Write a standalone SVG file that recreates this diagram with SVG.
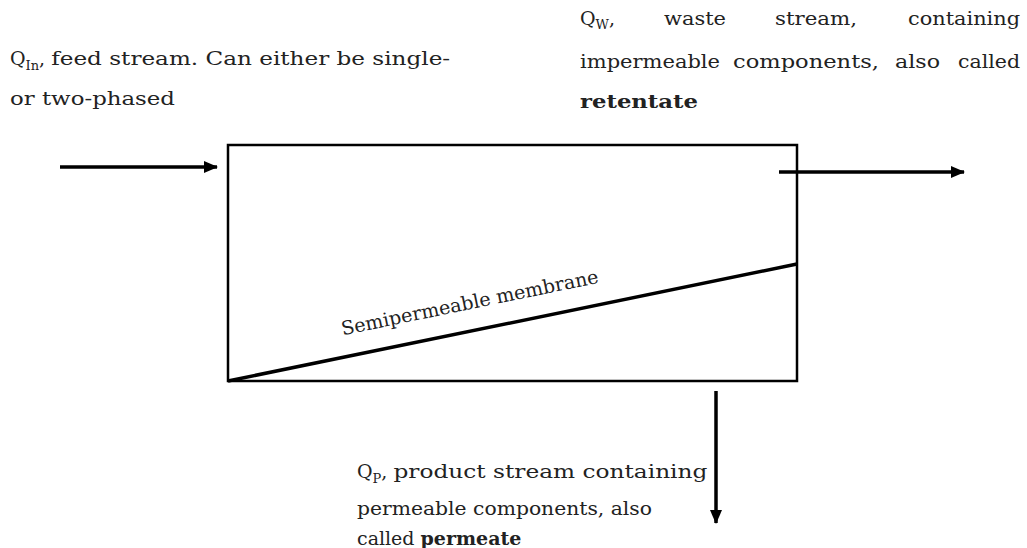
<svg xmlns="http://www.w3.org/2000/svg" width="1027" height="548" viewBox="0 0 1027 548">
<defs>
<style>
.t{font-family:"DejaVu Serif","Liberation Serif",serif;font-size:19px;fill:#222}
.b{font-weight:bold}
.sub{font-size:13px}
.ln{stroke:#000;stroke-width:3.5;fill:none}
</style>
<marker id="ah" markerWidth="14" markerHeight="14" refX="13" refY="7" orient="auto" markerUnits="userSpaceOnUse" viewBox="0 0 14 14">
<path d="M0,1 L14,7 L0,13 Z" fill="#000"/>
</marker>
</defs>
<rect width="1027" height="548" fill="#fff"/>
<g id="separator">
<rect x="228" y="145" width="569" height="236" fill="#fff" stroke="#000" stroke-width="2.5"/>
<line x1="228" y1="381" x2="797" y2="264" stroke="#000" stroke-width="3.5"/>
<text class="t" transform="translate(471,309) rotate(-11.6)" text-anchor="middle" font-size="20" fill="#333" textLength="262" lengthAdjust="spacingAndGlyphs">Semipermeable membrane</text>
</g>
<g id="connectors">
<line class="ln" x1="60" y1="167" x2="217" y2="167" marker-end="url(#ah)"/>
<line class="ln" x1="779" y1="172" x2="964" y2="172" marker-end="url(#ah)"/>
<line class="ln" x1="716" y1="391" x2="716" y2="523" marker-end="url(#ah)"/>
</g>
<g id="feed-label">
<text class="t" x="10" y="65">Q<tspan class="sub" dy="5">In</tspan><tspan dy="-5">, </tspan><tspan textLength="399" lengthAdjust="spacingAndGlyphs">feed stream. Can either be single-</tspan></text>
<text class="t" x="10" y="105" textLength="165" lengthAdjust="spacingAndGlyphs">or two-phased</text>
</g>
<g id="waste-label">
<text class="t" x="580" y="25">Q<tspan class="sub" dy="4">W</tspan><tspan dy="-4">,</tspan></text>
<text class="t" x="664" y="25" textLength="62" lengthAdjust="spacingAndGlyphs">waste</text>
<text class="t" x="775" y="25" textLength="82" lengthAdjust="spacingAndGlyphs">stream,</text>
<text class="t" x="1020" y="25" text-anchor="end" textLength="112" lengthAdjust="spacingAndGlyphs">containing</text>
<text class="t" x="580" y="68" textLength="140" lengthAdjust="spacingAndGlyphs">impermeable</text>
<text class="t" x="733" y="68" textLength="146" lengthAdjust="spacingAndGlyphs">components,</text>
<text class="t" x="895" y="68" textLength="45" lengthAdjust="spacingAndGlyphs">also</text>
<text class="t" x="958" y="68" textLength="62" lengthAdjust="spacingAndGlyphs">called</text>
<text class="t b" x="580" y="108" textLength="118" lengthAdjust="spacingAndGlyphs">retentate</text>
</g>
<g id="product-label">
<text class="t" x="357" y="478">Q<tspan class="sub" dy="5">P</tspan><tspan dy="-5">, </tspan><tspan textLength="314" lengthAdjust="spacingAndGlyphs">product stream containing</tspan></text>
<text class="t" x="357" y="515" textLength="295" lengthAdjust="spacingAndGlyphs">permeable components, also</text>
<text class="t" x="357" y="545">called <tspan class="b">permeate</tspan></text>
</g>
</svg>
